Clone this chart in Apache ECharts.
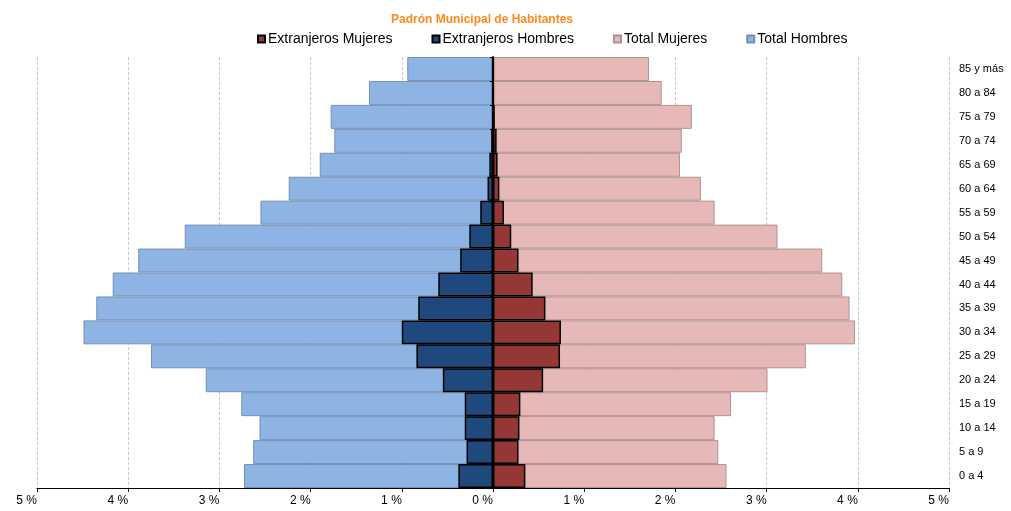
<!DOCTYPE html>
<html>
<head>
<meta charset="utf-8">
<script src="https://cdn.jsdelivr.net/npm/echarts@6/dist/echarts.min.js"></script>
<style>html,body{margin:0;padding:0;background:#fff}#c{width:1011px;height:511px}</style>
</head>
<body>
<div id="c"></div>
<script>
// Age groups, bottom to top
const categories = ['0 a 4','5 a 9','10 a 14','15 a 19','20 a 24','25 a 29','30 a 34','35 a 39','40 a 44','45 a 49','50 a 54','55 a 59','60 a 64','65 a 69','70 a 74','75 a 79','80 a 84','85 y más'];
// Percent of population
const totalHombres = [2.73, 2.63, 2.56, 2.76, 3.15, 3.75, 4.49, 4.35, 4.17, 3.89, 3.38, 2.55, 2.24, 1.90, 1.74, 1.78, 1.36, 0.94];
const totalMujeres = [2.56, 2.47, 2.43, 2.61, 3.01, 3.43, 3.97, 3.91, 3.83, 3.61, 3.12, 2.43, 2.28, 2.05, 2.07, 2.18, 1.85, 1.71];
const extranjerosHombres = [0.38, 0.29, 0.31, 0.31, 0.55, 0.84, 1.00, 0.82, 0.60, 0.36, 0.26, 0.14, 0.06, 0.04, 0.02, 0.01, 0.01, 0.01];
const extranjerosMujeres = [0.355, 0.28, 0.29, 0.30, 0.55, 0.735, 0.745, 0.575, 0.435, 0.28, 0.20, 0.12, 0.07, 0.05, 0.04, 0.02, 0.01, 0.01];
const xTicks = [-5, -4, -3, -2, -1, 0, 1, 2, 3, 4, 5];

const FONT = 'Liberation Sans, Arial, sans-serif';
const chart = echarts.init(document.getElementById('c'), null, {renderer: 'canvas'});
const neg = a => a.map(v => -v);

chart.setOption({
  animation: false,
  backgroundColor: '#fff',
  title: {
    text: 'Padrón Municipal de Habitantes',
    left: 477, top: 9, textAlign: 'center',
    textStyle: {fontFamily: FONT, fontSize: 12, fontWeight: 'bold', color: '#FF8A1C'}
  },
  legend: {
    data: ['Extranjeros Mujeres', 'Extranjeros Hombres', 'Total Mujeres', 'Total Hombres'],
    left: 252, top: 27,
    itemWidth: 7, itemHeight: 7, itemGap: 39,
    icon: 'rect',
    textStyle: {fontFamily: FONT, fontSize: 14, color: '#000', padding: [0, 0, 0, -2]}
  },
  grid: {left: 37, right: 62, top: 57, bottom: 23},
  xAxis: {
    type: 'value', min: xTicks[0], max: xTicks[xTicks.length - 1], interval: 1,
    axisLine: {show: true, lineStyle: {color: '#000', width: 1}},
    axisTick: {show: true, length: 4, lineStyle: {color: '#000'}},
    axisLabel: {fontFamily: FONT, fontSize: 12, color: '#000', margin: 7, align: 'right',
      formatter: v => Math.abs(v) + ' %'},
    splitLine: {show: true, lineStyle: {color: '#C8C8C8', type: [3, 2], width: 1}}
  },
  yAxis: [{
    type: 'category', data: categories, position: 'left',
    z: 10,
    axisLine: {show: true, onZero: true, lineStyle: {color: '#000', width: 2}},
    axisTick: {show: true, length: 3, inside: false, lineStyle: {color: '#000'}},
    axisLabel: {show: false},
    splitLine: {show: false}
  }, {
    type: 'category', data: categories, position: 'right',
    axisLine: {show: false, onZero: false},
    axisTick: {show: false},
    axisLabel: {fontFamily: FONT, fontSize: 11, color: '#000', margin: 10, align: 'left'},
    splitLine: {show: false}
  }],
  series: [{
    name: 'Total Hombres', type: 'bar', data: neg(totalHombres),
    barCategoryGap: 0, barGap: '-100%',
    itemStyle: {color: '#8EB4E3', borderColor: '#7590B5', borderWidth: 1}
  }, {
    name: 'Total Mujeres', type: 'bar', data: totalMujeres,
    barCategoryGap: 0, barGap: '-100%',
    itemStyle: {color: '#E6B9B8', borderColor: '#B09090', borderWidth: 1}
  }, {
    name: 'Extranjeros Hombres', type: 'bar', data: neg(extranjerosHombres),
    barCategoryGap: 0, barGap: '-100%',
    itemStyle: {color: '#1F497D', borderColor: '#000', borderWidth: 1.5}
  }, {
    name: 'Extranjeros Mujeres', type: 'bar', data: extranjerosMujeres,
    barCategoryGap: 0, barGap: '-100%',
    itemStyle: {color: '#953735', borderColor: '#000', borderWidth: 1.5}
  }]
});
</script>
</body>
</html>
